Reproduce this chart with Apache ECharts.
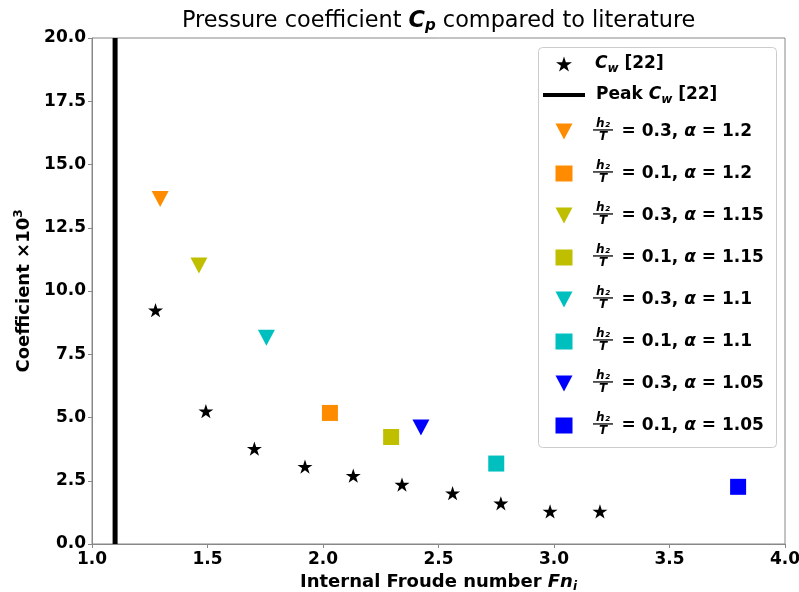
<!DOCTYPE html>
<html><head><meta charset="utf-8">
<script src="https://cdn.jsdelivr.net/npm/echarts@6/dist/echarts.min.js"></script>
<style>html,body{margin:0;padding:0;background:#fff}#c{width:799px;height:592px}</style>
</head><body><div id="c"></div>
<script>
// ---- data ----
const cwFn  = [1.275, 1.493, 1.703, 1.922, 2.131, 2.342, 2.561, 2.770, 2.983, 3.199];
const cwVal = [9.24, 5.25, 3.77, 3.06, 2.70, 2.35, 2.01, 1.61, 1.29, 1.29];
const peakFn = 1.1;
const peakRange = [0, 20];
const caseH2T   = ['0.3', '0.1', '0.3', '0.1', '0.3', '0.1', '0.3', '0.1'];
const caseAlpha = ['1.2', '1.2', '1.15', '1.15', '1.1', '1.1', '1.05', '1.05'];
const caseFn    = [1.295, 2.030, 1.463, 2.295, 1.755, 2.750, 2.424, 3.797];
const caseVal   = [13.64, 5.18, 11.01, 4.23, 8.15, 3.18, 4.60, 2.26];
const caseColor = ['#ff8c00', '#ff8c00', '#bfbf00', '#bfbf00', '#00bfbf', '#00bfbf', '#0000ff', '#0000ff'];
const caseShape = ['tri', 'sq', 'tri', 'sq', 'tri', 'sq', 'tri', 'sq'];
const xMin = 1.0, xMax = 4.0, xStep = 0.5;
const yMin = 0, yMax = 20, yStep = 2.5;

const FONT = '"DejaVu Sans", sans-serif';
const STAR = 'path://M50 0 L61.23 34.55 L97.55 34.55 L68.16 55.9 L79.39 90.45 L50 69.1 L20.61 90.45 L31.84 55.9 L2.45 34.55 L38.77 34.55 Z';
const TRI_DOWN = 'path://M0 0 L17 0 L8.5 16 Z';

const cwName = 'Cw [22]';
const peakName = 'Peak Cw [22]';
const caseNames = caseH2T.map((h, i) => 'h2/T = ' + h + ', α = ' + caseAlpha[i]);

const legendRich = {
  sp: { width: 18 },
  sp1: { width: 6 },
  sp2: { width: 16 },
  frac: { width: 28 },
  b: { fontFamily: FONT, fontWeight: 'bold', fontSize: 17, color: '#000', lineHeight: 22, verticalAlign: 'middle' },
  it: { fontFamily: FONT, fontWeight: 'bold', fontStyle: 'italic', fontSize: 17, color: '#000', lineHeight: 22, verticalAlign: 'middle' },
  sub: { fontFamily: FONT, fontWeight: 'bold', fontStyle: 'italic', fontSize: 12, color: '#000', lineHeight: 12, verticalAlign: 'bottom' }
};
function legendFmt(name) {
  if (name === cwName) return '{sp| }{it|C}{sub|w}{b| [22]}';
  if (name === peakName) return '{sp1| }{b|Peak }{it|C}{sub|w}{b| [22]}';
  const i = caseNames.indexOf(name);
  return '{sp2| }{frac| }{b|= ' + caseH2T[i] + ', }{it|α}{b| = ' + caseAlpha[i] + '}';
}

const series = [
  {
    name: cwName, type: 'scatter', data: cwFn.map((x, i) => [x, cwVal[i]]),
    symbol: STAR, symbolKeepAspect: true, symbolSize: 15,
    itemStyle: { color: '#000', opacity: 1 }, z: 3
  },
  {
    name: peakName, type: 'line', data: peakRange.map(v => [peakFn, v]),
    symbol: 'none', symbolKeepAspect: true,
    lineStyle: { color: '#000', width: 5 }, itemStyle: { color: '#000' }, z: 2
  }
];
caseNames.forEach((n, i) => {
  const tri = caseShape[i] === 'tri';
  series.push({
    name: n, type: 'scatter', data: [[caseFn[i], caseVal[i]]],
    symbol: tri ? 'triangle' : 'rect',
    symbolRotate: tri ? 180 : 0,
    symbolKeepAspect: true,
    symbolSize: tri ? [17, 16] : 16,
    itemStyle: { color: caseColor[i], opacity: 1 }, z: 3
  });
});

// legend frame + fraction overlays in legend rows
const graphics = [{
  type: 'rect', x: 538.5, y: 47.5, z: 1,
  shape: { width: 238, height: 400, r: 4 },
  style: { fill: 'rgba(255,255,255,0.8)', stroke: '#cccccc', lineWidth: 1 }
}];
caseNames.forEach((n, i) => {
  const c = 131.5 + 42 * i;
  graphics.push({ type: 'text', x: 603, y: c - 8, z: 100,
    style: { text: 'h₂', font: 'italic bold 12px ' + FONT, fill: '#000', align: 'center', verticalAlign: 'middle' } });
  graphics.push({ type: 'rect', x: 593, y: c - 2.2, z: 100, shape: { width: 20, height: 1.3 }, style: { fill: '#000' } });
  graphics.push({ type: 'text', x: 603, y: c + 5, z: 100,
    style: { text: 'T', font: 'italic bold 12px ' + FONT, fill: '#000', align: 'center', verticalAlign: 'middle' } });
});

const legendCommon = {
  orient: 'vertical', padding: 0, selectedMode: false, symbolKeepAspect: true,
  formatter: legendFmt, textStyle: { rich: legendRich }, z: 5
};

const chart = echarts.init(document.getElementById('c'), null, { renderer: 'canvas' });
chart.setOption({
  animation: false,
  backgroundColor: '#fff',
  title: {
    text: '{t|Pressure coefficient }{it|C}{sub|p}{t| compared to literature}',
    left: 182, top: 8, padding: 0,
    textStyle: {
      fontWeight: 'normal',
      rich: {
        t: { fontFamily: FONT, fontSize: 22.4, fontWeight: 'normal', color: '#000', lineHeight: 26 },
        it: { fontFamily: FONT, fontSize: 22.4, fontWeight: 'bold', fontStyle: 'italic', color: '#000', lineHeight: 26 },
        sub: { fontFamily: FONT, fontSize: 15, fontWeight: 'bold', fontStyle: 'italic', color: '#000', lineHeight: 14, verticalAlign: 'bottom' }
      }
    }
  },
  grid: { left: 92, right: 14, top: 38, bottom: 48, outerBoundsMode: 'none', containLabel: false,
          show: true, borderColor: '#888', borderWidth: 1, backgroundColor: 'transparent' },
  legend: [
    Object.assign({}, legendCommon, { left: 556, top: 55.5, itemWidth: 16, itemHeight: 16, data: [cwName] }),
    Object.assign({}, legendCommon, { left: 543, top: 86.5, itemWidth: 42, itemHeight: 16,
      data: [{ name: peakName, icon: 'path://M0 0H42V4H0Z' }] }),
    Object.assign({}, legendCommon, { left: 555.5, top: 123, itemWidth: 17, itemHeight: 16, itemGap: 25,
      data: caseNames.map((n, i) => ({ name: n, icon: caseShape[i] === 'tri' ? TRI_DOWN : 'rect' })) })
  ],
  xAxis: {
    type: 'value', min: xMin, max: xMax, interval: xStep,
    name: '{b|Internal Froude number }{it|Fn}{sub|i}',
    nameLocation: 'middle', nameGap: 25,
    nameTextStyle: { rich: {
      b: { fontFamily: FONT, fontSize: 18, fontWeight: 'bold', color: '#000', lineHeight: 22 },
      it: { fontFamily: FONT, fontSize: 18, fontWeight: 'bold', fontStyle: 'italic', color: '#000', lineHeight: 22 },
      sub: { fontFamily: FONT, fontSize: 12, fontWeight: 'bold', fontStyle: 'italic', color: '#000', lineHeight: 12, verticalAlign: 'bottom' }
    } },
    axisLine: { show: true, lineStyle: { color: '#888', width: 1 } },
    axisTick: { show: true, length: 4, lineStyle: { color: '#888' } },
    splitLine: { show: false },
    axisLabel: { fontFamily: FONT, fontSize: 17, fontWeight: 'bold', color: '#000', margin: 7, formatter: v => v.toFixed(1) }
  },
  yAxis: {
    type: 'value', min: yMin, max: yMax, interval: yStep,
    name: '{b|Coefficient ×10}{sup|3}',
    nameLocation: 'middle', nameGap: 56, nameRotate: 90,
    nameTextStyle: { rich: {
      b: { fontFamily: FONT, fontSize: 18, fontWeight: 'bold', color: '#000', lineHeight: 22 },
      sup: { fontFamily: FONT, fontSize: 12, fontWeight: 'bold', color: '#000', lineHeight: 12, verticalAlign: 'top' }
    } },
    axisLine: { show: true, lineStyle: { color: '#888', width: 1 } },
    axisTick: { show: true, length: 4, lineStyle: { color: '#888' } },
    splitLine: { show: false },
    axisLabel: { fontFamily: FONT, fontSize: 17, fontWeight: 'bold', color: '#000', margin: 6, formatter: v => v.toFixed(1) }
  },
  graphic: graphics,
  series: series
});
</script></body></html>
